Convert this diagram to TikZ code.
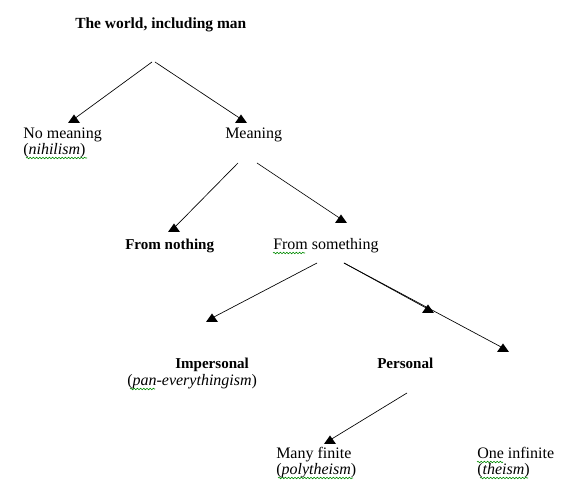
\documentclass[tikz,border=0pt]{standalone}
\usepackage{fontspec}
\setmainfont{Liberation Serif}
\usetikzlibrary{decorations.pathmorphing}
\tikzset{
  lbl/.style={anchor=base west, inner sep=0pt, font=\fontsize{12}{12}\selectfont},
  blbl/.style={lbl, font=\fontsize{11.3}{12}\selectfont\bfseries},
  tlbl/.style={lbl, font=\fontsize{11.6}{12}\selectfont\bfseries},
  conn/.style={draw=black, line width=0.5pt},
  tri/.pic={\fill[black] (-6,4) -- (6,4) -- (0,-4.5) -- cycle;},
  spell/.style={draw=green!55!black, line width=0.45pt, decorate,
    decoration={snake, segment length=2.4pt, amplitude=0.55pt}}
}
\begin{document}
\begin{tikzpicture}[x=0.75pt,y=-0.75pt]
\useasboundingbox[fill=white] (0,0) rectangle (576,495);

% texts
\node[tlbl] (world) at (75,29) {The world, including man};
\node[lbl] (nomeaning) at (23,139) {No meaning};
\node[lbl] (nihil) at (23,155) {(\textit{nihilism})};
\node[lbl] (meaning) at (225,139) {Meaning};
\node[blbl] (fromnothing) at (125,250) {From nothing};
\node[lbl] (fromsomething) at (273,250) {From something};
\node[blbl] (impersonal) at (175,369) {Impersonal};
\node[lbl] (pan) at (127,386) {(\textit{pan-everythingism})};
\node[blbl] (personal) at (377,369) {Personal};
\node[lbl] (manyfinite) at (276,459) {Many finite};
\node[lbl] (poly) at (276,475) {(\textit{polytheism})};
\node[lbl] (oneinfinite) at (477,459) {One infinite};
\node[lbl] (theism) at (477,475) {(\textit{theism})};

% connector ends
\coordinate (s1) at (152,62);
\coordinate (s2) at (155,62);
\coordinate (s3) at (238,163);
\coordinate (s4) at (257,163);
\coordinate (s5) at (317,263);
\coordinate (s6) at (344,263);
\coordinate (s8) at (407,393);
\coordinate (t1) at (74,119);
\coordinate (t2) at (241,119);
\coordinate (t3) at (174,228);
\coordinate (t4) at (341,219);
\coordinate (t5) at (212,318);
\coordinate (t6) at (428,309);
\coordinate (t7) at (503,348);
\coordinate (t8) at (330,440);

\draw[conn] (s1) -- (t1);
\draw[conn] (s2) -- (t2);
\draw[conn] (s3) -- (t3);
\draw[conn] (s4) -- (t4);
\draw[conn] (s5) -- (t5);
\draw[conn] (s6) -- (t6);
\draw[conn] (s6) -- (t7);
\draw[conn] (s8) -- (t8);
\foreach \t in {t1,t2,t3,t4,t5,t6,t7,t8} { \pic at (\t) {tri}; }

% spell-check underlines
\draw[spell] (26,158) -- (87,158);
\draw[spell] (273,253) -- (305,253);
\draw[spell] (130,389) -- (155,389);
\draw[spell] (278,478) -- (353,478);
\draw[spell] (477,462) -- (503,462);
\draw[spell] (480,478) -- (528,478);
\end{tikzpicture}
\end{document}
